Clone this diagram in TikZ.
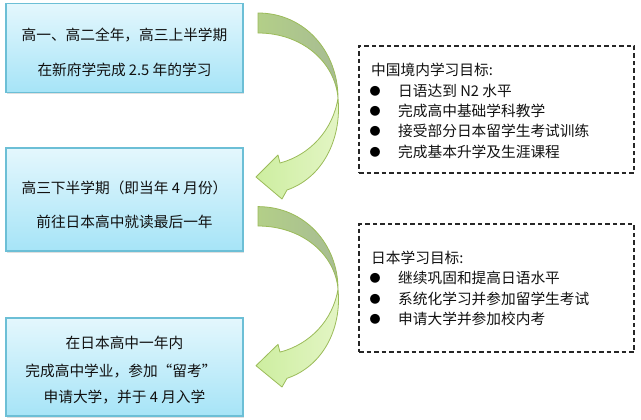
\documentclass[tikz,border=0pt]{standalone}
\usepackage{fontspec}
\setmainfont{Noto Sans CJK SC}
\usetikzlibrary{shadows}
\definecolor{boxborder}{HTML}{6CBFD6}
\definecolor{boxtop}{HTML}{E4F7FD}
\definecolor{boxbot}{HTML}{A6E4F7}
\definecolor{arrowline}{HTML}{9BBB59}
\definecolor{crescA}{HTML}{B3CF88}
\definecolor{crescB}{HTML}{A7BC93}
\definecolor{lowA}{HTML}{CDEEA0}
\definecolor{lowB}{HTML}{E4F5C6}
\definecolor{txtcol}{HTML}{111111}
\tikzset{
  bluebox/.style={draw=boxborder, line width=1.3pt, top color=boxtop, bottom color=boxbot,
    drop shadow={opacity=0.25, shadow xshift=1pt, shadow yshift=-1.5pt}, inner sep=0pt},
  goalbox/.style={draw=black!85, line width=1.2pt, dash pattern=on 4.5pt off 3pt, inner sep=0pt},
  txt/.style={font=\fontsize{14.7}{17}\selectfont, text=txtcol, inner sep=0pt},
  bul/.style={font=\fontsize{11}{11}\selectfont, text=black, inner sep=0pt},
  crescent/.style={draw=arrowline, line width=0.8pt, left color=crescA, right color=crescB},
  lowband/.style={draw=arrowline, line width=0.8pt, left color=lowA, right color=lowB, line join=round},
}
\newcommand{\curvedarrow}{%
  \path[crescent] (258,13) .. controls (305,13) and (338,52) .. (338,98)
     .. controls (335,62) and (302,33) .. (258,33) -- cycle;
  \path[lowband] (338,98) .. controls (342,140) and (322,178) .. (287,190)
     -- (282,199) -- (256,177) -- (278,155) -- (280,163)
     .. controls (310,155) and (333,130) .. (338,98) -- cycle;
}
\begin{document}
\begin{tikzpicture}[x=1pt,y=-1pt]
\useasboundingbox (0,0) rectangle (641,420);
% left boxes
\node[bluebox, minimum width=237pt, minimum height=89pt] (b1) at (124.5,48) {};
\node[bluebox, minimum width=237pt, minimum height=103pt] (b2) at (124.5,199.5) {};
\node[bluebox, minimum width=237pt, minimum height=98pt] (b3) at (124.5,367) {};
\node[txt] (b1a) at (124.5,35) {高一、高二全年，高三上半学期};
\node[txt] (b1b) at (124.5,70) {在新府学完成 2.5 年的学习};
\node[txt] (b2a) at (124.5,188) {高三下半学期（即当年 4 月份）};
\node[txt] (b2b) at (124.5,222) {前往日本高中就读最后一年};
\node[txt] (b3a) at (124.5,343) {在日本高中一年内};
\node[txt] (b3b) at (121,371) {完成高中学业，参加“留考”};
\node[txt] (b3c) at (124.5,397) {申请大学，并于 4 月入学};
% curved arrows
\begin{scope}
\curvedarrow
\end{scope}
\begin{scope}[shift={(0,194)}, yscale=0.97]
\curvedarrow
\end{scope}
% goal boxes
\node[goalbox, minimum width=275pt, minimum height=127pt] (g1) at (496.5,109.5) {};
\node[txt, anchor=west] (g1t) at (371,70) {中国境内学习目标:};
\node[bul] (g1d1) at (375,91) {●};
\node[bul] (g1d2) at (375,111) {●};
\node[bul] (g1d3) at (375,131) {●};
\node[bul] (g1d4) at (375,152) {●};
\node[txt, anchor=west] (g1l1) at (398,91) {日语达到 N2 水平};
\node[txt, anchor=west] (g1l2) at (398,111) {完成高中基础学科教学};
\node[txt, anchor=west] (g1l3) at (398,131) {接受部分日本留学生考试训练};
\node[txt, anchor=west] (g1l4) at (398,152) {完成基本升学及生涯课程};
\node[goalbox, minimum width=275pt, minimum height=128pt] (g2) at (496.5,288) {};
\node[txt, anchor=west] (g2t) at (371,258) {日本学习目标:};
\node[bul] (g2d1) at (375,278) {●};
\node[bul] (g2d2) at (375,299) {●};
\node[bul] (g2d3) at (375,319) {●};
\node[txt, anchor=west] (g2l1) at (398,278) {继续巩固和提高日语水平};
\node[txt, anchor=west] (g2l2) at (398,299) {系统化学习并参加留学生考试};
\node[txt, anchor=west] (g2l3) at (398,319) {申请大学并参加校内考};
\end{tikzpicture}
\end{document}
